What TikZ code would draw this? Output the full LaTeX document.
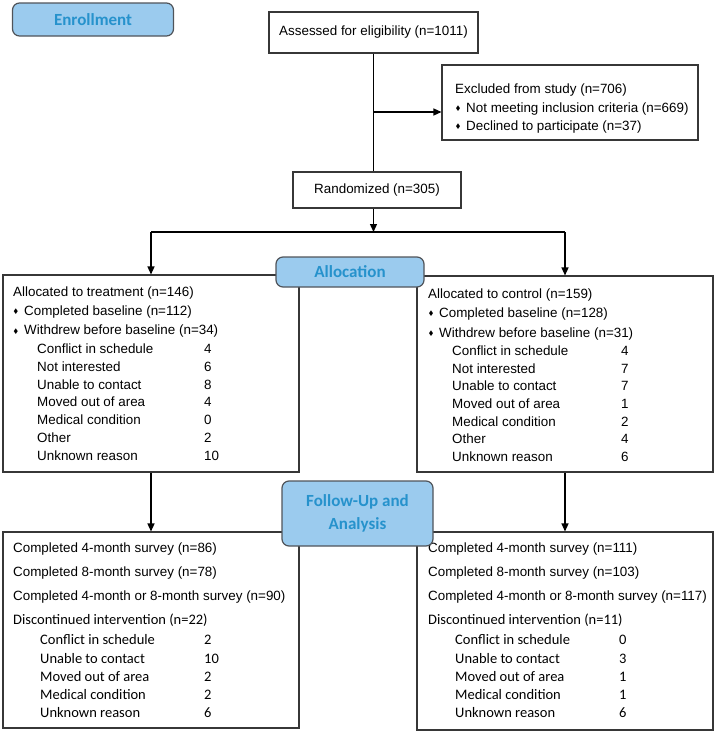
\documentclass[tikz,border=0pt]{standalone}
\usepackage{amsmath,amssymb}
\usepackage{fontspec}
\setmainfont{Liberation Sans}
\newfontfamily\calib{Carlito}
\usepackage{xcolor}
\definecolor{Col1}{RGB}{55,55,55}
\definecolor{Col2}{RGB}{155,203,238}
\definecolor{Col3}{RGB}{38,146,204}
\definecolor{Col4}{RGB}{80,84,90}
\usepackage{tikz}
\usetikzlibrary{arrows.meta}
\tikzstyle{Box}=[rectangle,draw=Col1,line width=1.1pt,inner sep=0pt,
font=\fontsize{13.4}{15}\selectfont]
\tikzstyle{Label}=[rectangle,draw=Col4,fill=Col2,line width=1.2pt,
rounded corners=7pt,inner sep=0pt,text=Col3,align=center,
font=\calib\bfseries\fontsize{17}{23}\selectfont]
\tikzstyle{Edge}=[draw=black,line width=1.3pt]
\tikzstyle{Arrow}=[Edge,-{Triangle[length=8pt,width=7pt]}]
\tikzstyle{Txt}=[anchor=west,inner sep=0pt,text height=9.6pt,
text depth=2.8pt,font=\fontsize{13.4}{15}\selectfont]
\tikzstyle{TxtC}=[Txt,font=\calib\fontsize{14.5}{17}\selectfont]
\tikzstyle{Bul}=[anchor=center,inner sep=0pt,
font=\fontsize{6.5}{6.5}\selectfont]
\newcommand{\Dia}{$\blacklozenge$}

\begin{document}
\begin{tikzpicture}[x=1pt,y=-1pt]
        \useasboundingbox(0,0)rectangle(717,731);
        % boxes
        \node[Box,minimum width=209pt,minimum height=41pt](Ass)at(373.5,32.5)
            {Assessed for eligibility (n=1011)};
        \node[Box,minimum width=256pt,minimum height=75pt](Exc)at(570,102.5){};
        \node[Box,minimum width=168pt,minimum height=36pt](Ran)at(377,190)
            {Randomized (n=305)};
        \node[Box,minimum width=296pt,minimum height=197pt](Tre)at(151,373.5){};
        \node[Box,minimum width=296pt,minimum height=196pt](Ctr)at(565,374){};
        \node[Box,minimum width=296pt,minimum height=196pt](Tre2)at(151,630){};
        \node[Box,minimum width=296pt,minimum height=198pt](Ctr2)at(565,631){};
        % excluded
        \node[Txt](E1)at(455,90){Excluded from study (n=706)};
        \node[Bul](Eb2)at(458,109){\Dia};
        \node[Txt](E2)at(466,109){Not meeting inclusion criteria (n=669)};
        \node[Bul](Eb3)at(458,127){\Dia};
        \node[Txt](E3)at(466,127){Declined to participate (n=37)};
        % treatment
        \node[Txt](T1)at(13,293){Allocated to treatment (n=146)};
        \node[Bul](Tb2)at(16,312){\Dia};
        \node[Txt](T2)at(24,312){Completed baseline (n=112)};
        \node[Bul](Tb3)at(16,331.5){\Dia};
        \node[Txt](T3)at(24,331.5){Withdrew before baseline (n=34)};
        \node[Txt](T4)at(37,350.5){Conflict in schedule};
        \node[Txt](Tn4)at(204,350.5){4};
        \node[Txt](T5)at(37,368){Not interested};
        \node[Txt](Tn5)at(204,368){6};
        \node[Txt](T6)at(37,386){Unable to contact};
        \node[Txt](Tn6)at(204,386){8};
        \node[Txt](T7)at(37,403.5){Moved out of area};
        \node[Txt](Tn7)at(204,403.5){4};
        \node[Txt](T8)at(37,421.5){Medical condition};
        \node[Txt](Tn8)at(204,421.5){0};
        \node[Txt](T9)at(37,439){Other};
        \node[Txt](Tn9)at(204,439){2};
        \node[Txt](T10)at(37,457){Unknown reason};
        \node[Txt](Tn10)at(204,457){10};
        % control
        \node[Txt](C1)at(428,295){Allocated to control (n=159)};
        \node[Bul](Cb2)at(431,314){\Dia};
        \node[Txt](C2)at(439,314){Completed baseline (n=128)};
        \node[Bul](Cb3)at(431,334){\Dia};
        \node[Txt](C3)at(439,334){Withdrew before baseline (n=31)};
        \node[Txt](C4)at(452,352){Conflict in schedule};
        \node[Txt](Cn4)at(621,352){4};
        \node[Txt](C5)at(452,370){Not interested};
        \node[Txt](Cn5)at(621,370){7};
        \node[Txt](C6)at(452,387.5){Unable to contact};
        \node[Txt](Cn6)at(621,387.5){7};
        \node[Txt](C7)at(452,405){Moved out of area};
        \node[Txt](Cn7)at(621,405){1};
        \node[Txt](C8)at(452,423){Medical condition};
        \node[Txt](Cn8)at(621,423){2};
        \node[Txt](C9)at(452,440){Other};
        \node[Txt](Cn9)at(621,440){4};
        \node[Txt](C10)at(452,458.5){Unknown reason};
        \node[Txt](Cn10)at(621,458.5){6};
        % follow-up treatment
        \node[Txt](F1)at(13,549){Completed 4-month survey (n=86)};
        \node[Txt](F2)at(13,573){Completed 8-month survey (n=78)};
        \node[Txt](F3)at(13,597){Completed 4-month or 8-month survey (n=90)};
        \node[TxtC](F4)at(13,621){Discontinued intervention (n=22)};
        \node[TxtC](F5)at(40,641){Conflict in schedule};
        \node[TxtC](Fn5)at(204,641){2};
        \node[TxtC](F6)at(40,660.5){Unable to contact};
        \node[TxtC](Fn6)at(204,660.5){10};
        \node[TxtC](F7)at(40,678.5){Moved out of area};
        \node[TxtC](Fn7)at(204,678.5){2};
        \node[TxtC](F8)at(40,696.5){Medical condition};
        \node[TxtC](Fn8)at(204,696.5){2};
        \node[TxtC](F9)at(40,714.5){Unknown reason};
        \node[TxtC](Fn9)at(204,714.5){6};
        % follow-up control
        \node[Txt](G1)at(428,549){Completed 4-month survey (n=111)};
        \node[Txt](G2)at(428,573){Completed 8-month survey (n=103)};
        \node[Txt](G3)at(428,597){Completed 4-month or 8-month survey (n=117)};
        \node[TxtC](G4)at(428,621){Discontinued intervention (n=11)};
        \node[TxtC](G5)at(455,641){Conflict in schedule};
        \node[TxtC](Gn5)at(619,641){0};
        \node[TxtC](G6)at(455,660.5){Unable to contact};
        \node[TxtC](Gn6)at(619,660.5){3};
        \node[TxtC](G7)at(455,678.5){Moved out of area};
        \node[TxtC](Gn7)at(619,678.5){1};
        \node[TxtC](G8)at(455,696.5){Medical condition};
        \node[TxtC](Gn8)at(619,696.5){1};
        \node[TxtC](G9)at(455,714.5){Unknown reason};
        \node[TxtC](Gn9)at(619,714.5){6};
        % connectors
        \coordinate(b1)at(373.5,112);
        \coordinate(b2)at(373.5,232);
        \draw[Edge](Ass.south)--(Ass.south|-Ran.north);
        \draw[Arrow](b1)--(b1-|Exc.west);
        \draw[Arrow](b2|-Ran.south)--(b2);
        \draw[Edge](b2-|Tre.north)--(b2-|Ctr.north);
        \draw[Arrow](b2-|Tre.north)--(Tre.north);
        \draw[Arrow](b2-|Ctr.north)--(Ctr.north);
        \draw[Arrow](Tre.south)--(Tre2.north);
        \draw[Arrow](Ctr.south)--(Ctr2.north);
        % stage labels
        \node[Label,minimum width=161pt,minimum height=33pt](Enr)at(93,19.5)
            {Enrollment};
        \node[Label,minimum width=148pt,minimum height=30pt](All)at(350,272)
            {Allocation};
        \node[Label,minimum width=151pt,minimum height=65pt](Fol)at(357.5,513.5)
            {Follow-Up and\\Analysis};
    \end{tikzpicture}
\end{document}
